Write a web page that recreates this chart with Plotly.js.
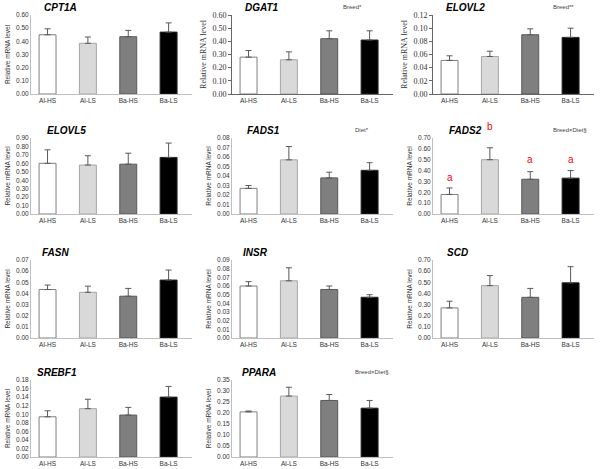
<!DOCTYPE html>
<html>
<head>
<meta charset="utf-8">
<script src="https://cdn.plot.ly/plotly-3.0.1.min.js"></script>
<style>
  html, body { margin: 0; padding: 0; background: #fff; }
  #chart { width: 600px; height: 469px; }
</style>
</head>
<body>
<div id="chart"></div>
<script>
const groups = ['Al-HS', 'Al-LS', 'Ba-HS', 'Ba-LS'];
const genes = ['CPT1A', 'DGAT1', 'ELOVL2', 'ELOVL5', 'FADS1', 'FADS2', 'FASN', 'INSR', 'SCD', 'SREBF1', 'PPARA'];

// mean and upper error (SE)
const cpt1aMean = [0.45, 0.385, 0.435, 0.47];
const cpt1aErr = [0.045, 0.048, 0.048, 0.07];
const dgat1Mean = [0.28, 0.26, 0.42, 0.41];
const dgat1Err = [0.05, 0.06, 0.06, 0.07];
const elovl2Mean = [0.051, 0.057, 0.090, 0.086];
const elovl2Err = [0.007, 0.008, 0.009, 0.014];
const elovl5Mean = [0.60, 0.58, 0.59, 0.67];
const elovl5Err = [0.16, 0.11, 0.13, 0.17];
const fads1Mean = [0.027, 0.057, 0.038, 0.046];
const fads1Err = [0.003, 0.014, 0.006, 0.008];
const fads2Mean = [0.18, 0.50, 0.32, 0.33];
const fads2Err = [0.06, 0.11, 0.07, 0.07];
const fasnMean = [0.0435, 0.041, 0.0375, 0.052];
const fasnErr = [0.004, 0.0055, 0.007, 0.009];
const insrMean = [0.060, 0.066, 0.056, 0.047];
const insrErr = [0.005, 0.015, 0.004, 0.003];
const scdMean = [0.27, 0.47, 0.365, 0.495];
const scdErr = [0.06, 0.09, 0.08, 0.145];
const srebf1Mean = [0.094, 0.113, 0.098, 0.140];
const srebf1Err = [0.014, 0.022, 0.018, 0.025];
const pparaMean = [0.205, 0.277, 0.257, 0.222];
const pparaErr = [0.004, 0.04, 0.027, 0.035];

const yMax = [0.60, 0.60, 0.12, 0.90, 0.08, 0.70, 0.07, 0.09, 0.70, 0.18, 0.35];
const yStep = [0.10, 0.10, 0.02, 0.10, 0.01, 0.10, 0.01, 0.01, 0.10, 0.02, 0.05];

const statText = ['', 'Breed*', 'Breed**', '', 'Diet*', 'Breed\u00d7Diet\u00a7', '', '', '', '', 'Breed\u00d7Diet\u00a7'];
const fads2Letters = ['a', 'b', 'a', 'a'];

const means = [cpt1aMean, dgat1Mean, elovl2Mean, elovl5Mean, fads1Mean, fads2Mean, fasnMean, insrMean, scdMean, srebf1Mean, pparaMean];
const errs = [cpt1aErr, dgat1Err, elovl2Err, elovl5Err, fads1Err, fads2Err, fasnErr, insrErr, scdErr, srebf1Err, pparaErr];

const W = 600, H = 469;
const colLeft = [31, 232, 433];
const plotW = 161;
const rowTop = [15, 138, 260, 380];
const rowBot = [94, 214, 338, 457];
// horizontal centre of the statistics note, offset from the panel's left edge
const statOffset = [0, 120, 130, 0, 130, 137, 0, 0, 0, 0, 140];
const titleOffset = [11, 11, 11, 14, 13, 14, 9, 9, 12, 4, 8];

const fills = ['#ffffff', '#d9d9d9', '#7f7f7f', '#000000'];
const edges = ['#7f7f7f', '#a6a6a6', '#595959', '#262626'];

const sans = 'Liberation Sans, Arial, sans-serif';
const serif = 'Liberation Serif, Times New Roman, serif';

const traces = [];
const layout = {
  width: W, height: H,
  margin: {l: 0, r: 0, t: 0, b: 0},
  paper_bgcolor: '#fff', plot_bgcolor: '#fff',
  showlegend: false,
  bargap: 0.58,
  annotations: []
};

genes.forEach((g, i) => {
  const col = i % 3, row = Math.floor(i / 3);
  const n = i === 0 ? '' : String(i + 1);
  const serifPanel = (g === 'DGAT1' || g === 'ELOVL2');
  const tickFont = serifPanel ? {family: serif, size: 8, color: '#333'} : {family: sans, size: 6.5, color: '#333'};

  traces.push({
    type: 'bar',
    x: groups,
    y: means[i],
    xaxis: 'x' + n, yaxis: 'y' + n,
    marker: {color: fills, line: {color: edges, width: 1}},
    error_y: {
      type: 'data', symmetric: false,
      array: errs[i], arrayminus: [0, 0, 0, 0],
      color: '#595959', thickness: 1, width: 3
    },
    hoverinfo: 'skip'
  });

  const x0 = colLeft[col], x1 = x0 + plotW;
  layout['xaxis' + n] = {
    domain: [x0 / W, x1 / W],
    anchor: 'y' + n,
    range: [-0.41, 3.58],
    showline: true, linecolor: serifPanel ? '#666' : '#bfbfbf', linewidth: 1,
    ticks: '', tickfont: {family: sans, size: 6.5, color: '#333'},
    fixedrange: true
  };
  layout['yaxis' + n] = {
    domain: [1 - rowBot[row] / H, 1 - rowTop[row] / H],
    anchor: 'x' + n,
    range: [0, yMax[i]],
    dtick: yStep[i], tick0: 0,
    tickformat: '.2f',
    showgrid: false, zeroline: false,
    showline: true, linecolor: serifPanel ? '#666' : '#bfbfbf', linewidth: 1,
    ticks: serifPanel ? 'outside' : '', ticklen: 3, tickcolor: '#666',
    tickfont: tickFont,
    title: {
      text: 'Relative mRNA level',
      font: serifPanel ? {family: serif, size: 8, color: '#333'} : {family: sans, size: 6.5, color: '#333'},
      standoff: 4
    },
    fixedrange: true
  };

  layout.annotations.push({
    xref: 'paper', yref: 'paper',
    x: (x0 + titleOffset[i]) / W, y: 1 - (rowTop[row] - 8) / H,
    xanchor: 'left', yanchor: 'middle',
    text: '<b><i>' + g + '</i></b>',
    showarrow: false,
    font: {family: sans, size: 10, color: '#000'}
  });

  if (statText[i]) {
    layout.annotations.push({
      xref: 'paper', yref: 'paper',
      x: (x0 + statOffset[i]) / W, y: 1 - (rowTop[row] - 8) / H,
      xanchor: 'center', yanchor: 'middle',
      text: statText[i],
      showarrow: false,
      font: {family: sans, size: 6, color: '#444'}
    });
  }
});

// significance letters on FADS2 (panel 6)
const letterY = [177, 126, 160, 160];
fads2Letters.forEach((t, k) => {
  layout.annotations.push({
    xref: 'x6', yref: 'paper',
    x: groups[k], y: 1 - letterY[k] / H,
    xanchor: 'center', yanchor: 'middle',
    text: t, showarrow: false,
    font: {family: sans, size: 10, color: '#ff0000'}
  });
});

Plotly.newPlot('chart', traces, layout, {staticPlot: true});
</script>
</body>
</html>
